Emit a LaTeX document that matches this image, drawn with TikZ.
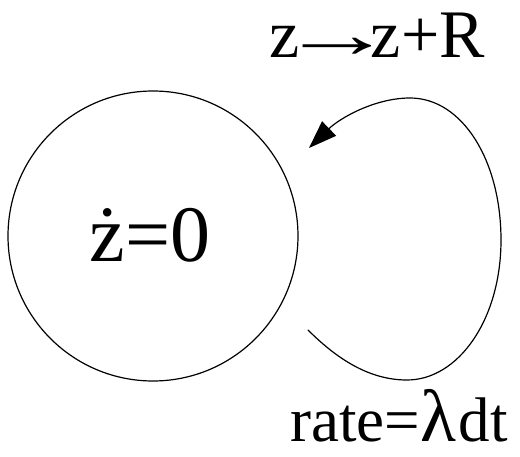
\documentclass[tikz,border=0pt]{standalone}
\usepackage{fontspec}
\setmainfont{Liberation Serif}
\usetikzlibrary{arrows.meta}
\begin{document}
\begin{tikzpicture}[x=1pt,y=-1pt,
  thinline/.style={line width=1.2pt, line cap=round},
  lbl/.style={inner sep=0pt, anchor=base}]
\useasboundingbox (0,0) rectangle (520,457);
\node[draw, thinline, circle, minimum size=290pt, inner sep=0pt] (c) at (153,236) {};
\node[lbl, font=\fontsize{80}{80}\selectfont] (st) at (150,262) {ż=0};
\node[lbl, font=\fontsize{68}{68}\selectfont] (jump) at (377,58) {z\kern-20pt\scalebox{1.7}[1]{→}\kern-24pt z+R};
\node[lbl, font=\fontsize{63}{63}\selectfont] (rate) at (399,441) {rate={\fontsize{74}{74}\selectfont λ}\kern3pt dt};
\coordinate (s) at (308,330);
\coordinate (b) at (407,380);
\coordinate (r) at (501,240);
\coordinate (t) at (410,98);
\coordinate (e) at (309,148);
\draw[thinline, -{Triangle[length=28pt,width=20pt]}]
  (s) .. controls (340,362) and (372,380) .. (b)
      .. controls (458,380) and (501,320) .. (r)
      .. controls (501,160) and (462,98) .. (t)
      .. controls (375,98) and (340,118) .. (e);
\end{tikzpicture}
\end{document}
